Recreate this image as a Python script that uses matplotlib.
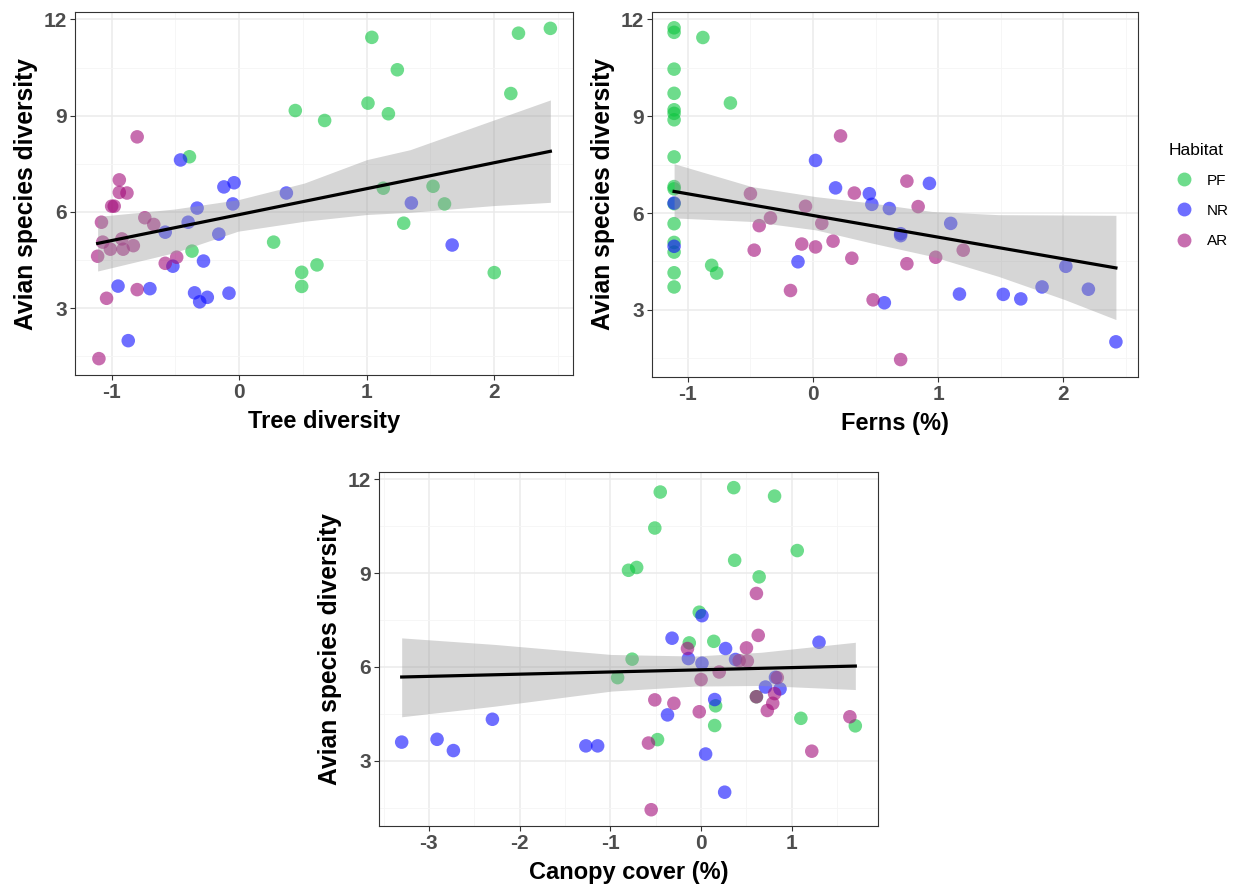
import numpy as np
import matplotlib
matplotlib.use("Agg")
import matplotlib.pyplot as plt
from matplotlib.lines import Line2D

plt.rcParams['font.family'] = ['Liberation Sans', 'DejaVu Sans']
plt.rcParams['axes.unicode_minus'] = False

habitats = ['PF', 'NR', 'AR']
colors = {'PF': '#0DC53F', 'NR': '#0D0DFF', 'AR': '#A30D7A'}

# Panel 1: tree diversity
tree_x = {
    'PF': [1.04, 2.19, 2.44, 1.24, 2.13, 1.01, 0.44, 1.17, 0.67, -0.39,
           1.13, 1.52, 1.61, 1.29, 0.27, -0.37, 0.61, 0.49, 2.00, 0.49],
    'NR': [-0.46, -0.04, -0.12, 0.37, -0.05, -0.33, 1.35, -0.40, -0.58, -0.16,
           1.67, -0.28, -0.52, -0.95, -0.70, -0.35, -0.08, -0.25, -0.31, -0.87],
    'AR': [-0.80, -0.94, -0.94, -0.88, -1.00, -0.98, -1.08, -0.74, -0.67, -1.07,
           -0.92, -1.01, -0.91, -0.83, -1.11, -0.49, -0.58, -0.80, -1.04, -1.10],
}
tree_y = {
    'PF': [11.44, 11.57, 11.72, 10.43, 9.69, 9.39, 9.16, 9.06, 8.85, 7.72,
           6.74, 6.80, 6.25, 5.65, 5.06, 4.78, 4.35, 4.12, 4.11, 3.68],
    'NR': [7.62, 6.91, 6.78, 6.59, 6.25, 6.12, 6.28, 5.68, 5.37, 5.31,
           4.97, 4.47, 4.31, 3.69, 3.61, 3.48, 3.47, 3.34, 3.20, 1.99],
    'AR': [8.34, 7.00, 6.61, 6.59, 6.18, 6.18, 5.68, 5.82, 5.61, 5.06,
           5.16, 4.84, 4.84, 4.95, 4.62, 4.59, 4.40, 3.58, 3.31, 1.43],
}
tree_fit_x = [-1.11, 2.44]
tree_fit_y = [5.02, 7.89]
tree_band_x = [-1.11, -0.51, -0.01, 0.51, 1.00, 1.34, 2.00, 2.44]
tree_band_lo = [4.16, 4.73, 5.40, 5.71, 5.92, 5.99, 6.20, 6.30]
tree_band_hi = [5.86, 6.09, 6.38, 6.90, 7.63, 7.94, 8.87, 9.49]

# Panel 2: ferns
fern_x = {
    'PF': [-1.11, -1.11, -0.88, -1.11, -1.11, -1.11, -1.11, -1.11, -0.66, -1.11,
           -1.11, -1.11, -1.11, -1.11, -1.11, -1.11, -0.81, -0.77, -1.11, -1.11],
    'NR': [-1.11, -1.11, 0.02, 0.18, 0.45, 0.47, 0.61, 0.93, 1.10, 0.70,
           0.70, -0.12, 2.02, 1.17, 1.52, 1.66, 1.83, 2.20, 0.57, 2.42],
    'AR': [0.22, 0.75, -0.50, 0.33, 0.84, -0.06, -0.34, 0.07, -0.43, 0.16,
           -0.09, 0.02, -0.47, 1.20, 0.31, 0.98, 0.75, -0.18, 0.48, 0.70],
}
fern_y = {
    'PF': [11.74, 11.60, 11.44, 10.46, 9.71, 9.20, 9.09, 8.89, 9.41, 7.74,
           6.82, 6.75, 6.29, 5.67, 5.09, 4.79, 4.38, 4.14, 4.15, 3.71],
    'NR': [6.31, 4.97, 7.63, 6.78, 6.60, 6.27, 6.14, 6.92, 5.68, 5.36,
           5.30, 4.49, 4.35, 3.49, 3.48, 3.34, 3.71, 3.64, 3.22, 2.01],
    'AR': [8.39, 6.99, 6.60, 6.62, 6.20, 6.21, 5.85, 5.68, 5.61, 5.13,
           5.04, 4.95, 4.85, 4.85, 4.60, 4.63, 4.43, 3.60, 3.31, 1.46],
}
fern_fit_x = [-1.11, 2.42]
fern_fit_y = [6.67, 4.30]
fern_band_x = [-1.11, -0.49, 0.02, 0.47, 0.95, 1.48, 2.01, 2.42]
fern_band_lo = [5.85, 5.74, 5.48, 5.07, 4.66, 4.04, 3.32, 2.70]
fern_band_hi = [7.53, 6.82, 6.51, 6.31, 6.05, 5.95, 5.94, 5.93]

# Panel 3: canopy cover
canopy_x = {
    'PF': [0.36, -0.45, 0.81, -0.51, 1.06, 0.37, -0.71, -0.80, 0.64, -0.02,
           0.14, -0.13, -0.76, -0.92, 0.61, 0.16, 1.10, 0.15, 1.70, -0.48],
    'NR': [0.01, -0.32, 0.27, 1.30, -0.14, 0.38, 0.01, 0.82, 0.71, 0.87,
           0.15, -0.37, -2.30, -3.30, -2.91, -2.73, -1.27, -1.14, 0.05, 0.26],
    'AR': [0.61, 0.63, -0.15, 0.50, 0.42, 0.51, 0.20, 0.00, 0.84, -0.51,
           -0.30, 0.61, 0.81, 0.79, 0.73, -0.02, 1.64, -0.58, 1.22, -0.55],
}
canopy_y = {
    'PF': [11.73, 11.59, 11.46, 10.44, 9.72, 9.41, 9.18, 9.09, 8.88, 7.75,
           6.82, 6.77, 6.25, 5.66, 5.05, 4.76, 4.36, 4.13, 4.12, 3.68],
    'NR': [7.64, 6.92, 6.59, 6.79, 6.27, 6.24, 6.12, 5.67, 5.36, 5.30,
           4.96, 4.47, 4.33, 3.60, 3.69, 3.33, 3.48, 3.48, 3.22, 2.00],
    'AR': [8.35, 7.01, 6.59, 6.61, 6.20, 6.19, 5.84, 5.60, 5.66, 4.95,
           4.84, 5.05, 5.15, 4.84, 4.61, 4.57, 4.41, 3.57, 3.31, 1.44],
}
canopy_fit_x = [-3.30, 1.70]
canopy_fit_y = [5.68, 6.03]
canopy_band_x = [-3.30, -2.27, -0.99, -0.07, 0.66, 1.70]
canopy_band_lo = [4.41, 4.75, 5.23, 5.39, 5.41, 5.28]
canopy_band_hi = [6.93, 6.72, 6.40, 6.35, 6.47, 6.79]


def panel(ax, xs, ys, fit_x, fit_y, band_x, band_lo, band_hi, xlabel, xticks):
    for h in habitats:
        ax.scatter(xs[h], ys[h], s=95, color=colors[h], alpha=0.6,
                   edgecolors='none', zorder=3)
    ax.fill_between(band_x, band_lo, band_hi, color='#999999',
                    alpha=0.4, linewidth=0, zorder=4)
    ax.plot(fit_x, fit_y, color='black', linewidth=2.3, zorder=5)

    ax.set_xticks(xticks)
    ax.set_xticks([t - 0.5 for t in xticks] + [xticks[-1] + 0.5], minor=True)
    ax.set_yticks([3, 6, 9, 12])
    ax.set_yticks([1.5, 4.5, 7.5, 10.5], minor=True)
    # limits after ticks so the minor ticks don't widen the view
    x = np.concatenate([xs[h] for h in habitats])
    xr = x.max() - x.min()
    ax.set_xlim(x.min() - 0.05 * xr, x.max() + 0.05 * xr)
    ax.set_ylim(0.92, 12.23)
    ax.grid(which='major', color='#EBEBEB', linewidth=1.1, zorder=0)
    ax.grid(which='minor', color='#F5F5F5', linewidth=0.6, zorder=0)
    ax.set_axisbelow(True)
    for sp in ax.spines.values():
        sp.set_color('#333333')
        sp.set_linewidth(0.8)
    ax.tick_params(which='major', length=3.5, color='#333333', width=0.8,
                   labelsize=15, labelcolor='#4D4D4D', pad=2)
    ax.tick_params(which='minor', length=0)
    for lab in ax.get_xticklabels() + ax.get_yticklabels():
        lab.set_fontweight('bold')
    ax.set_xlabel(xlabel, fontsize=17, fontweight='bold', labelpad=6)
    ax.set_ylabel('Avian species diversity', fontsize=17.7, fontweight='bold', labelpad=4)


fig = plt.figure(figsize=(12.35, 8.88), dpi=100)
W, H = 1235, 888
ax1 = fig.add_axes([75 / W, 1 - 375 / H, 498 / W, 363 / H])
ax2 = fig.add_axes([652 / W, 1 - 377 / H, 486 / W, 365 / H])
ax3 = fig.add_axes([379 / W, 1 - 826 / H, 499 / W, 354 / H])

panel(ax1, tree_x, tree_y, tree_fit_x, tree_fit_y,
      tree_band_x, tree_band_lo, tree_band_hi, 'Tree diversity', [-1, 0, 1, 2])
panel(ax2, fern_x, fern_y, fern_fit_x, fern_fit_y,
      fern_band_x, fern_band_lo, fern_band_hi, 'Ferns (%)', [-1, 0, 1, 2])
panel(ax3, canopy_x, canopy_y, canopy_fit_x, canopy_fit_y,
      canopy_band_x, canopy_band_lo, canopy_band_hi, 'Canopy cover (%)',
      [-3, -2, -1, 0, 1])

handles = [Line2D([], [], marker='o', linestyle='none', markersize=10,
                  markerfacecolor=colors[h], markeredgecolor='none', alpha=0.6)
           for h in habitats]
fig.legend(handles, habitats, title='Habitat', loc='upper left',
           bbox_to_anchor=(1155 / W, 1 - 129 / H), frameon=False,
           fontsize=11, title_fontsize=12.5, handletextpad=0.5,
           labelspacing=1.05, alignment='left')

fig.savefig('out.png', dpi=100)
